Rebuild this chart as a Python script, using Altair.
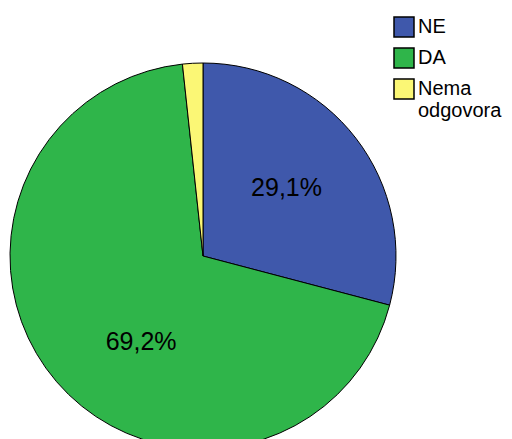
import altair as alt
import pandas as pd

categories = ["NE", "DA", "Nema odgovora"]
values = [29.1, 69.2, 1.7]
labels = ["29,1%", "69,2%", ""]
colors = ["#3f58ab", "#2fb54a", "#fbf775"]

df = pd.DataFrame({"cat": categories, "val": values, "lab": labels,
                   "order": list(range(len(categories)))})

theta_scale = alt.Scale(domain=[0, 100])

pie = alt.Chart(df).mark_arc(outerRadius=193, stroke="black", strokeWidth=1).encode(
    theta=alt.Theta("val:Q", stack=True, scale=theta_scale),
    order=alt.Order("order:Q"),
    x=alt.value(195), y=alt.value(248),
    color=alt.Color(
        "cat:N",
        sort=categories,
        scale=alt.Scale(domain=categories, range=colors),
        legend=alt.Legend(
            title=None, orient="none", legendX=385, legendY=8,
            symbolType="square", symbolSize=400, symbolStrokeColor="black",
            symbolStrokeWidth=1.5, symbolOpacity=1,
            labelFont="Liberation Sans", labelFontSize=20, labelColor="black",
            labelOffset=3, rowPadding=5, labelLimit=200,
            labelExpr="datum.label == 'Nema odgovora' ? ['Nema', 'odgovora'] : datum.label",
        ),
    ),
)

lab_base = alt.Chart(df).transform_stack(
    stack="val", groupby=[], as_=["v0", "v1"], sort=[alt.SortField("order")]
).transform_calculate(mid="(datum.v0 + datum.v1) / 2").encode(
    theta=alt.Theta("mid:Q", scale=theta_scale),
    x=alt.value(195), y=alt.value(248), text="lab:N",
)

txt_ne = lab_base.mark_text(radius=108, font="Liberation Sans", fontSize=25,
                            color="black", dx=-2, dy=-2).transform_filter("datum.cat == 'NE'")
txt_da = lab_base.mark_text(radius=108, font="Liberation Sans", fontSize=25,
                            color="black", dx=20, dy=16).transform_filter("datum.cat == 'DA'")

chart = alt.layer(pie, txt_ne, txt_da).properties(
    width=496, height=480, padding=0,
    autosize=alt.AutoSizeParams(type="none"),
).configure_view(stroke=None)

chart.save("out.html", embed_options={"renderer": "svg", "actions": False})
